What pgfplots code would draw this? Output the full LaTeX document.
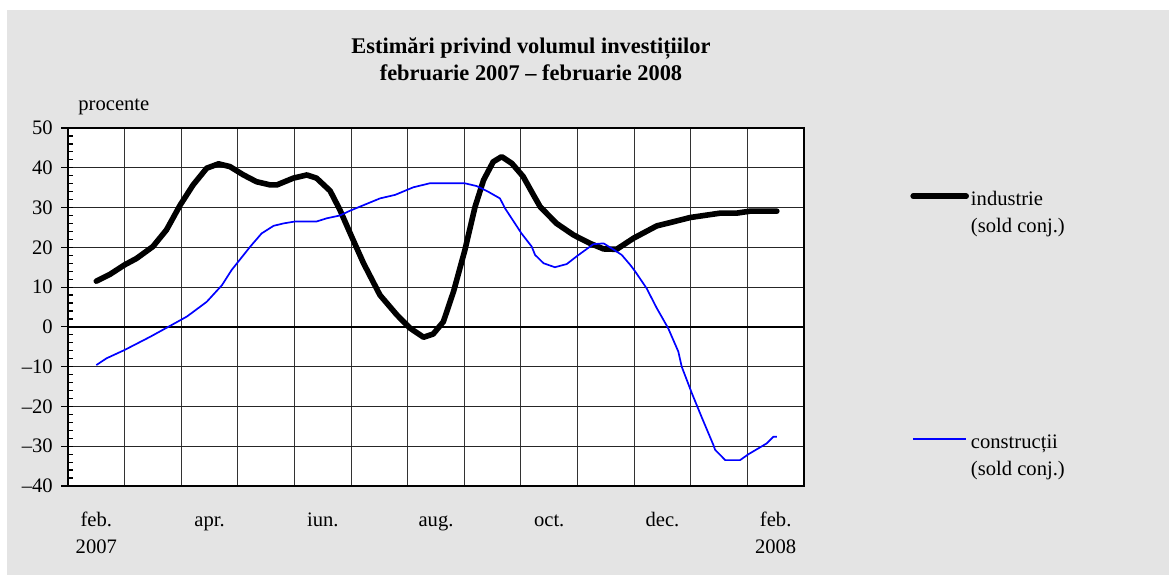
\documentclass[border=0pt]{standalone}
\usepackage{fontspec}
\setmainfont{Liberation Serif}
\usepackage{pgfplots}
\pgfplotsset{compat=1.18}
\definecolor{bgpat}{RGB}{228,228,228}
\definecolor{conblue}{RGB}{0,0,255}
\begin{document}
\fontsize{10.3}{13.5}\selectfont
\begin{tikzpicture}
\useasboundingbox (-34pt,-44.5pt) rectangle (550.5pt,243pt);
\fill[bgpat] (-30.5pt,-44.5pt) rectangle (550.5pt,238pt);
\begin{axis}[
  at={(0pt,0pt)}, anchor=south west,
  scale only axis, width=368pt, height=179pt,
  xmin=0, xmax=13, ymin=-40, ymax=50,
  axis background/.style={fill=white},
  axis line style={black, line width=0.9pt},
  /pgf/number format/assume math mode=true,
  xtick={0.5,2.5,...,12.5},
  xticklabels={{\begin{tabular}[t]{@{}c@{}}feb.\\2007\end{tabular}},apr.,iun.,aug.,oct.,dec.,{\begin{tabular}[t]{@{}c@{}}feb.\\2008\end{tabular}}},
  xticklabel style={anchor=base, yshift=-20pt},
  xtick style={draw=none},
  minor xtick={1,...,12},
  xminorgrids,
  minor x grid style={black!80, line width=0.5pt},
  ytick={-40,-30,...,50},
  yticklabels={–40,–30,–20,–10,0,10,20,30,40,50},
  yticklabel style={xshift=-4pt},
  ymajorgrids,
  major y grid style={black!85, line width=0.5pt},
  ytick pos=left,
  ytick align=inside,
  minor y tick num=4,
  minor tick length=2.3pt,
  major tick length=2.3pt,
  tick style={black, line width=0.6pt},
  extra y ticks={-40,-30,...,50},
  extra y tick labels={},
  extra y tick style={tick align=outside, grid=none, minor y tick num=0, major tick length=3.3pt},
  legend image code/.code={\draw[#1] (0pt,0.45em) -- (26.5pt,0.45em);},
  legend cell align=left,
  legend style={at={(axis description cs:1.144,0.843)}, anchor=north west, draw=none, fill=none,
    inner xsep=0pt, inner ysep=0pt, row sep=110pt, column sep=0pt,
    cells={anchor=base west}, nodes={inner sep=1pt, text depth=0pt}},
]
\addplot[black, line width=1.1pt, forget plot] coordinates {(0,0) (13,0)};
\addplot[black, line width=2.8pt, line join=round, line cap=round] coordinates {
(0.5,11.5) (0.74,13.2) (1.0,15.6) (1.21,17.2) (1.5,20.2) (1.74,24.4) (1.98,30.6) (2.21,35.7) (2.45,39.9) (2.66,41.0) (2.86,40.3) (3.10,38.2) (3.33,36.5) (3.57,35.7) (3.69,35.7) (3.98,37.4) (4.22,38.2) (4.39,37.4) (4.63,34.2) (4.80,29.5) (5.01,22.7) (5.22,16.0) (5.51,8.0) (5.81,3.0) (6.04,-0.3) (6.28,-2.6) (6.45,-1.8) (6.63,1.3) (6.81,8.9) (7.01,19.3) (7.19,30.2) (7.34,36.9) (7.51,41.5) (7.66,42.8) (7.84,41.1) (8.04,37.8) (8.22,33.2) (8.34,30.2) (8.63,26.0) (8.93,23.1) (9.22,21.0) (9.46,19.6) (9.69,19.5) (9.99,22.3) (10.40,25.4) (10.63,26.2) (10.99,27.5) (11.52,28.6) (11.81,28.6) (12.05,29.1) (12.52,29.1)
};
\addlegendentry{\begin{tabular}[t]{@{}l@{}}industrie\\(sold conj.)\end{tabular}}
\addplot[conblue, line width=0.85pt, line join=round] coordinates {
(0.5,-9.6) (0.68,-7.9) (1.0,-5.8) (1.45,-2.5) (1.77,0) (2.10,2.6) (2.45,6.3) (2.72,10.5) (2.89,14.3) (3.22,20.2) (3.42,23.5) (3.63,25.4) (3.80,26.0) (4.01,26.5) (4.39,26.5) (4.57,27.3) (4.80,28.0) (4.98,29.2) (5.51,32.3) (5.78,33.2) (6.10,35.1) (6.39,36.1) (7.01,36.1) (7.22,35.4) (7.42,34.0) (7.63,32.3) (7.72,29.8) (8.01,23.5) (8.19,20.2) (8.25,18.1) (8.40,16.0) (8.60,15.0) (8.81,15.8) (8.99,17.8) (9.28,20.8) (9.46,21.0) (9.63,19.5) (9.78,18.1) (9.93,15.6) (10.02,13.9) (10.22,9.7) (10.40,4.7) (10.60,-0.3) (10.78,-6.2) (10.84,-10) (11.02,-16.7) (11.19,-22.6) (11.40,-29.7) (11.43,-30.9) (11.61,-33.5) (11.87,-33.5) (12.02,-32) (12.34,-29.3) (12.46,-27.6) (12.52,-27.6)
};
\addlegendentry{\begin{tabular}[t]{@{}l@{}}construcții\\(sold conj.)\end{tabular}}
\end{axis}
\node[anchor=base, inner sep=0pt, font=\bfseries\fontsize{11.2}{13}\selectfont] at (231.5pt,216.4pt) {Estimări privind volumul investițiilor};
\node[anchor=base, inner sep=0pt, font=\bfseries\fontsize{11.2}{13}\selectfont] at (231.5pt,203pt) {februarie 2007 – februarie 2008};
\node[anchor=base west, inner sep=0pt] at (5pt,188pt) {procente};
\end{tikzpicture}
\end{document}
